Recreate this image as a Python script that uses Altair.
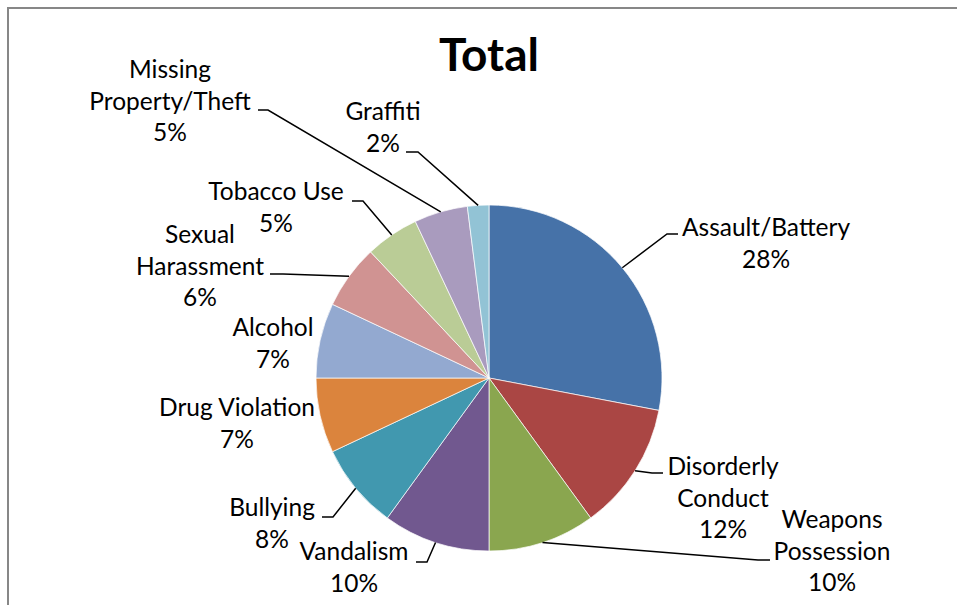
import math
import altair as alt
import pandas as pd

# ---------------- data ----------------
categories = ["Assault/Battery", "Disorderly Conduct", "Weapons Possession", "Vandalism",
              "Bullying", "Drug Violation", "Alcohol", "Sexual Harassment", "Tobacco Use",
              "Missing Property/Theft", "Graffiti"]
values = [28, 12, 10, 10, 8, 7, 7, 6, 5, 5, 2]
label_lines = [["Assault/Battery"], ["Disorderly", "Conduct"], ["Weapons", "Possession"],
               ["Vandalism"], ["Bullying"], ["Drug Violation"], ["Alcohol"],
               ["Sexual", "Harassment"], ["Tobacco Use"], ["Missing", "Property/Theft"],
               ["Graffiti"]]
colors = ["#4672A8", "#AA4644", "#8AA64F", "#71588F", "#4198AF", "#DB843D",
          "#93A9D0", "#D09392", "#BACC96", "#A99BBE", "#92C3D5"]
title_text = "Total"

# ---------------- layout (pixels) ----------------
W, H = 957, 605
CX, CY, R = 489, 378, 173
FONT = "Lato"
# centre x and first-line centre y of each label block
label_xy = [(766, 229), (723, 468), (832, 521), (354, 553), (272, 509), (237, 409),
            (273, 329), (200, 236), (276, 193), (170, 71), (383, 113)]
# (elbow, end) of each leader line; None = no leader
leaders = [((667, 234), (678, 234)), ((652, 473), (663, 473)), ((758, 560), (770, 560)),
           ((427, 562), (416, 562)), ((333, 517), (322, 517)), None, None,
           ((283, 274), (270, 274)), ((363, 201), (352, 201)), ((268, 110), (258, 110)),
           ((418, 152), (406, 152))]

total = sum(values)
pcts = [round(v / total * 100) for v in values]

arc_df = pd.DataFrame({"category": categories, "value": values, "idx": list(range(len(values)))})

text_rows = []
for i, c in enumerate(categories):
    text_rows.append({"x": label_xy[i][0], "y": label_xy[i][1],
                      "label": "\n".join(label_lines[i] + [f"{pcts[i]}%"])})
text_df = pd.DataFrame(text_rows)

line_rows = []
cum = 0.0
for i, v in enumerate(values):
    mid = (cum + v / 2) / total * 2 * math.pi
    cum += v
    if leaders[i] is None:
        continue
    ex = CX + R * math.sin(mid)
    ey = CY - R * math.cos(mid)
    pts = [(ex, ey), leaders[i][0], leaders[i][1]]
    for k, (px, py) in enumerate(pts):
        line_rows.append({"id": categories[i], "k": k, "x": px, "y": py})
line_df = pd.DataFrame(line_rows)

xs = alt.Scale(domain=[0, W], range=[0, W])
ys = alt.Scale(domain=[0, H], range=[0, H])

arcs = alt.Chart(arc_df).mark_arc(outerRadius=R, stroke="white", strokeWidth=0.7).encode(
    theta=alt.Theta("value:Q", stack=True),
    order=alt.Order("idx:Q"),
    color=alt.Color("category:N", scale=alt.Scale(domain=categories, range=colors), legend=None),
    x=alt.value(CX),
    y=alt.value(CY),
)

lines = alt.Chart(line_df).mark_line(color="black", strokeWidth=1.5).encode(
    x=alt.X("x:Q", scale=xs, axis=None),
    y=alt.Y("y:Q", scale=ys, axis=None),
    detail="id:N",
    order="k:Q",
)

labels = alt.Chart(text_df).mark_text(
    font=FONT, fontSize=24.5, color="black", lineBreak="\n", lineHeight=31.5,
    align="center", baseline="middle",
).encode(
    x=alt.X("x:Q", scale=xs, axis=None),
    y=alt.Y("y:Q", scale=ys, axis=None),
    text="label:N",
)

title = alt.Chart(pd.DataFrame({"t": [title_text]})).mark_text(
    font=FONT, fontSize=46, fontWeight="bold", color="black", align="center", baseline="middle"
).encode(x=alt.value(489), y=alt.value(57), text="t:N")

frame_left = alt.Chart(pd.DataFrame({"a": [0]})).mark_rule(color="#878787", strokeWidth=2).encode(
    x=alt.value(8), y=alt.value(7), y2=alt.value(H))
frame_top = alt.Chart(pd.DataFrame({"a": [0]})).mark_rule(color="#878787", strokeWidth=2).encode(
    x=alt.value(7), x2=alt.value(W), y=alt.value(8))

chart = alt.layer(frame_left, frame_top, arcs, lines, labels, title).properties(
    width=W, height=H, autosize=alt.AutoSizeParams(type="none"), padding=0,
    background="white",
).configure_view(stroke=None)

chart.save("out.html", embed_options={"renderer": "svg", "actions": False})
